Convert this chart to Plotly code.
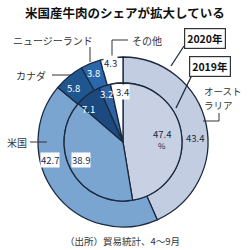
import plotly.graph_objects as go

categories = ["オーストラリア", "米国", "カナダ", "ニュージーランド", "その他"]
share_2020 = [43.4, 42.7, 5.8, 3.8, 4.3]
share_2019 = [47.4, 38.9, 7.1, 3.2, 3.4]
ring_labels = ["2020年", "2019年"]
title = "米国産牛肉のシェアが拡大している"
source = "（出所）貿易統計、4～9月"

W = H = 250
FONT = "Noto Sans CJK JP"
LINE = "#1b2a40"
outer_colors = ["#c3cde2", "#7aa5d1", "#1f5690", "#2b68ab", "#ffffff"]
inner_colors = ["#c8d0e3", "#7aa5d1", "#1c4a80", "#2e63a4", "#ffffff"]

cx, cy, R_out, R_in = 123, 142, 85, 59


def px(x):
    return x / W


def py(y):
    return 1 - y / H


fig = go.Figure()
fig.add_trace(go.Pie(
    labels=categories, values=share_2020, sort=False, direction="clockwise",
    rotation=0, hole=R_in / R_out, textinfo="none", hoverinfo="label+value",
    marker=dict(colors=outer_colors, line=dict(color=LINE, width=1.3)),
    domain=dict(x=[px(cx - R_out), px(cx + R_out)], y=[py(cy + R_out), py(cy - R_out)]),
    showlegend=False,
))
fig.add_trace(go.Pie(
    labels=categories, values=share_2019, sort=False, direction="clockwise",
    rotation=0, textinfo="none", hoverinfo="label+value",
    marker=dict(colors=inner_colors, line=dict(color=LINE, width=1.3)),
    domain=dict(x=[px(cx - R_in), px(cx + R_in)], y=[py(cy + R_in), py(cy - R_in)]),
    showlegend=False,
))

ann = []


def text(x, y, t, size=10, color="#222", bold=False, bg=None, xanchor="center", border=None):
    d = dict(x=px(x), y=py(y), xref="paper", yref="paper", text=f"<b>{t}</b>" if bold else t,
             showarrow=False, xanchor=xanchor, yanchor="middle", align="left",
             font=dict(family=FONT, size=size, color=color))
    if bg:
        d["bgcolor"] = bg
        d["borderpad"] = 0
    if border:
        d["bordercolor"] = border
        d["borderwidth"] = 1.2
        d["borderpad"] = 2
    ann.append(d)


# title and source
text(125, 12, title, size=12.5, color="#111", bold=True)
text(122, 241, source, size=9.5, color="#333")

# category names
aus = categories[0]
text(202, 91, aus[:4], size=9.5, color="#333", xanchor="left")
text(202, 105, aus[4:], size=9.5, color="#333", xanchor="left")
text(5, 142, categories[1], size=10, color="#333", xanchor="left")
text(14, 75, categories[2], size=10, color="#333", xanchor="left")
text(11, 40, categories[3], size=10, color="#333", xanchor="left")
text(130, 40, categories[4], size=10, color="#333", xanchor="left")

# year boxes
text(205, 38, ring_labels[0], size=10.5, color="#111", bold=True, bg="white", border="#333")
text(210, 66, ring_labels[1], size=10.5, color="#111", bold=True, bg="white", border="#333")

# values 2020 (outer)
text(195, 138, f"{share_2020[0]}", size=9.5, color=LINE)
text(50, 160, f"{share_2020[1]}", size=9.5, color=LINE, bg="white")
text(73, 88, f"{share_2020[2]}", size=9.5, color="white")
text(93, 73, f"{share_2020[3]}", size=9.5, color="white")
text(110, 63, f"{share_2020[4]}", size=9.5, color=LINE, bg="white")

# values 2019 (inner)
text(162, 134, f"{share_2019[0]}", size=9.5, color=LINE)
text(162, 145, "%", size=8, color=LINE)
text(81, 160, f"{share_2019[1]}", size=9.5, color=LINE, bg="white")
text(88, 109, f"{share_2019[2]}", size=9.5, color="white")
text(106, 94, f"{share_2019[3]}", size=9.5, color="white")
text(122, 92, f"{share_2019[4]}", size=9.5, color=LINE, bg="white")

fig.update_layout(annotations=ann)

shapes = []


def line(x0, y0, x1, y1, color="#333", w=1):
    shapes.append(dict(type="line", xref="paper", yref="paper",
                       x0=px(x0), y0=py(y0), x1=px(x1), y1=py(y1),
                       line=dict(color=color, width=w)))


line(90, 47, 90, 62)            # NZ
line(128, 40, 112, 40)          # その他
line(112, 40, 112, 58)
line(52, 75, 71, 75)            # カナダ
line(30, 142, 47, 142)          # 米国
line(219, 113, 219, 121)        # オーストラリア
line(219, 121, 203, 121)
line(184, 46, 171, 66, color=LINE, w=1.3)   # 2020年
line(192, 75, 176, 108, color=LINE, w=1.3)  # 2019年

fig.update_layout(
    shapes=shapes,
    width=W, height=H,
    margin=dict(l=0, r=0, t=0, b=0),
    paper_bgcolor="white", plot_bgcolor="white",
    font=dict(family=FONT),
)
fig.write_html("out.html")
